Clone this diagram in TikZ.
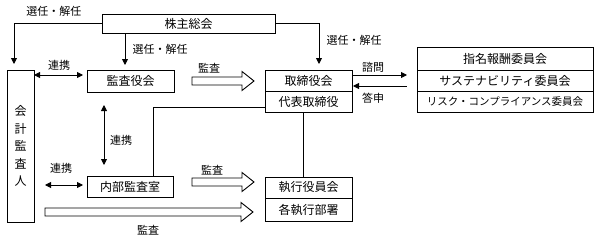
\documentclass[tikz,border=0pt]{standalone}
\usepackage{fontspec}
\setmainfont{Noto Sans CJK JP}
\usetikzlibrary{arrows.meta,positioning,calc}

% open block arrow between two points on one level
\newcommand{\fatarrow}[2]{%
  \draw[fat] let \p1=(#1), \p2=(#2) in
    (\x1,\y1+4pt) -- (\x2-12pt,\y1+4pt) -- (\x2-12pt,\y1+9.5pt) -- (\x2,\y1)
    -- (\x2-12pt,\y1-9.5pt) -- (\x2-12pt,\y1-4pt) -- (\x1,\y1-4pt) -- cycle;}

\begin{document}
\begin{tikzpicture}[
  x=1pt, y=-1pt,
  box/.style={draw, line width=0.9pt, font=\fontsize{12}{14}\selectfont,
    minimum height=21pt, inner sep=0pt, outer sep=0pt},
  lbl/.style={font=\fontsize{11}{13}\selectfont, inner sep=0pt},
  link/.style={line width=0.9pt},
  fat/.style={draw, line width=0.9pt, fill=white},
  >={Triangle[length=6pt,width=6pt]}]
\useasboundingbox (0,0) rectangle (600,241);
\node[box, minimum width=173pt, minimum height=19pt] (kabu) at (188.5,23.5) {株主総会};
\node[box, minimum width=27pt, minimum height=152pt, align=center,
  font=\fontsize{12}{17.5}\selectfont] (auditor) at (20.5,146) {会\\計\\監\\査\\人};
\node[box, minimum width=87pt, minimum height=22pt] (kansa) at (130.5,81) {監査役会};
\node[box, minimum width=87pt] (board) at (308.5,80.5) {取締役会};
\node[box, minimum width=87pt, below=0pt of board] (ceo) {代表取締役};
\node[box, minimum width=86pt] (naibu) at (130,186.5) {内部監査室};
\node[box, minimum width=87pt] (exec) at (308.5,187.5) {執行役員会};
\node[box, minimum width=87pt, minimum height=23pt, below=0pt of exec] (depts) {各執行部署};
\node[box, minimum width=176pt, minimum height=23pt] (nomin) at (505,58.5) {指名報酬委員会};
\node[box, minimum width=176pt, below=0pt of nomin] (sustain) {サステナビリティ委員会};
\node[box, minimum width=176pt, below=0pt of sustain,
  font=\fontsize{10.5}{12}\selectfont] (risk) {リスク・コンプライアンス委員会};

\node[lbl] (selA) at (54,11) {選任・解任};
\node[lbl] (selB) at (160,49) {選任・解任};
\node[lbl] (selC) at (354,40) {選任・解任};
\node[lbl] (lnkTl) at (59,65) {連携};
\node[lbl] (lnkVl) at (121,140) {連携};
\node[lbl] (lnkBl) at (61,168) {連携};
\node[lbl] (audAl) at (209,68) {監査};
\node[lbl] (audBl) at (212,170) {監査};
\node[lbl] (audCl) at (148,230) {監査};
\node[lbl] (askl) at (373,67) {諮問};
\node[lbl] (ansl) at (373,98) {答申};

\coordinate (selT) at ([xshift=-5.5pt]kansa.north);
\coordinate (lnkT) at ([yshift=6pt]kansa.west);
\coordinate (lnkB) at ([yshift=1.5pt]naibu.west);
\coordinate (lnkV) at ([xshift=-26pt]naibu.north);
\coordinate (repA) at ([yshift=-5.5pt]ceo.west);
\coordinate (askA) at ([yshift=5.5pt]board.east);
\coordinate (ansA) at ([yshift=-5.5pt]board.east);
\coordinate (audA1) at ([xshift=18pt]kansa.east);
\coordinate (audA2) at ([xshift=-11pt,yshift=-0.5pt]board.west);
\coordinate (audB1) at ([xshift=19pt,yshift=4.5pt]naibu.east);
\coordinate (audB2) at ([xshift=-11pt,yshift=5.5pt]exec.west);
\coordinate (audC1) at ([xshift=11pt]auditor.east |- depts.west);
\coordinate (audC2) at ([xshift=-12pt,yshift=-2.5pt]depts.west);

\draw[link,->,shorten >=6pt] (kabu.west) -| ([xshift=-6.5pt]auditor.north);
\draw[link,->,shorten >=6pt] (kabu.east) -| ([xshift=10.5pt]board.north);
\draw[link,->,shorten >=5pt] (kabu.south -| selT) -- (selT);
\draw[link,<->,shorten >=4pt] (auditor.east |- lnkT) -- (lnkT);
\draw[link,<->,shorten <=11pt,shorten >=4pt] (auditor.east |- lnkB) -- (lnkB);
\draw[link,<->,shorten <=13pt,shorten >=11pt] (kansa.south -| lnkV) -- (lnkV);
\draw[link] ([xshift=23pt]naibu.north) |- (repA);
\draw[link] ([xshift=-5.5pt]ceo.south) -- ([xshift=-5.5pt]exec.north);
\draw[link,->,shorten <=1pt,shorten >=10pt] (askA) -- (askA -| nomin.west);
\draw[link,<-,shorten <=1pt,shorten >=10pt] (ansA) -- (ansA -| nomin.west);
\fatarrow{audA1}{audA2}
\fatarrow{audB1}{audB2}
\fatarrow{audC1 |- audC2}{audC2}
\end{tikzpicture}
\end{document}
